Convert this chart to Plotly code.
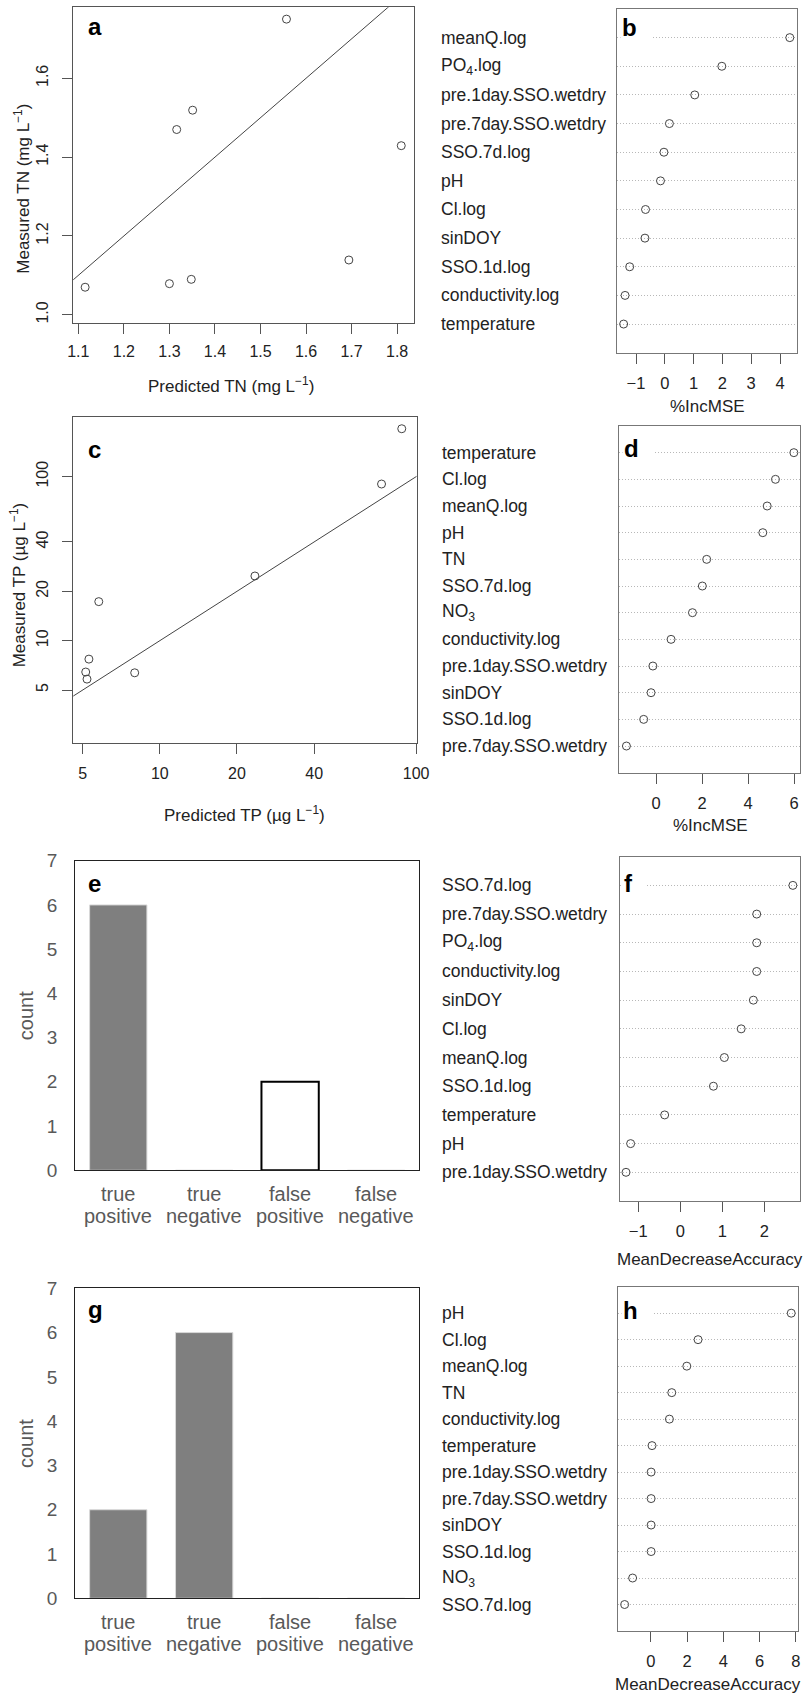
import plotly.graph_objects as go

W, H = 806, 1697
FONT = "Arial, Liberation Sans, sans-serif"

# ---------------- data ----------------
# panel a: predicted vs measured TN (mg/L)
tn_pred = [1.115, 1.300, 1.348, 1.316, 1.351, 1.557, 1.694, 1.809]
tn_meas = [1.070, 1.079, 1.090, 1.470, 1.519, 1.750, 1.139, 1.429]
tn_ticks_x = [1.1, 1.2, 1.3, 1.4, 1.5, 1.6, 1.7, 1.8]
tn_ticks_y = [1.0, 1.2, 1.4, 1.6]
one_to_one_a = [0.5, 2.5]

# panel c: predicted vs measured TP (ug/L), log axes
tp_pred = [5.14, 5.20, 5.29, 5.78, 7.98, 23.5, 73.3, 87.9]
tp_meas = [6.44, 5.83, 7.72, 17.3, 6.37, 24.8, 90.2, 196]
tp_ticks = [5, 10, 20, 40, 100]
one_to_one_c = [1, 1000]

# panel b: %IncMSE (TN model)
b_vars = ["meanQ.log", "PO<sub>4</sub>.log", "pre.1day.SSO.wetdry", "pre.7day.SSO.wetdry",
          "SSO.7d.log", "pH", "Cl.log", "sinDOY", "SSO.1d.log", "conductivity.log", "temperature"]
b_vals = [4.34, 1.98, 1.04, 0.16, -0.03, -0.15, -0.67, -0.69, -1.22, -1.38, -1.43]
b_ticks = [-1, 0, 1, 2, 3, 4]

# panel d: %IncMSE (TP model)
d_vars = ["temperature", "Cl.log", "meanQ.log", "pH", "TN", "SSO.7d.log", "NO<sub>3</sub>",
          "conductivity.log", "pre.1day.SSO.wetdry", "sinDOY", "SSO.1d.log", "pre.7day.SSO.wetdry"]
d_vals = [5.99, 5.19, 4.83, 4.64, 2.20, 2.01, 1.58, 0.65, -0.14, -0.22, -0.54, -1.29]
d_ticks = [0, 2, 4, 6]

# panel e: classification outcome counts
bar_categories = ["true positive", "true negative", "false positive", "false negative"]
e_counts = [6, 0, 2, 0]
count_ticks = [0, 1, 2, 3, 4, 5, 6, 7]

# panel f: MeanDecreaseAccuracy
f_vars = ["SSO.7d.log", "pre.7day.SSO.wetdry", "PO<sub>4</sub>.log", "conductivity.log", "sinDOY",
          "Cl.log", "meanQ.log", "SSO.1d.log", "temperature", "pH", "pre.1day.SSO.wetdry"]
f_vals = [2.68, 1.82, 1.82, 1.82, 1.74, 1.45, 1.05, 0.79, -0.37, -1.18, -1.29]
f_ticks = [-1, 0, 1, 2]

# panel g: classification outcome counts
g_counts = [2, 6, 0, 0]

# panel h: MeanDecreaseAccuracy
h_vars = ["pH", "Cl.log", "meanQ.log", "TN", "conductivity.log", "temperature",
          "pre.1day.SSO.wetdry", "pre.7day.SSO.wetdry", "sinDOY", "SSO.1d.log", "NO<sub>3</sub>", "SSO.7d.log"]
h_vals = [7.75, 2.61, 1.99, 1.16, 1.03, 0.07, 0.02, 0.02, 0.02, 0.02, -1.0, -1.44]
h_ticks = [0, 2, 4, 6, 8]


def fx(p):
    return p / W


def fy(p):
    return 1 - p / H


def tick_text(vals):
    return [("%g" % v).replace("-", "\u2212") for v in vals]


fig = go.Figure()
ann = []
layout = dict(width=W, height=H, margin=dict(l=0, r=0, t=0, b=0, autoexpand=False),
              paper_bgcolor="white", plot_bgcolor="white", showlegend=False,
              font=dict(family=FONT, color="#222"))

BOX = "#555555"
marker_open = dict(symbol="circle-open", size=8, color="#444", line=dict(width=1))

# ---------- panel a ----------
fig.add_trace(go.Scatter(x=tn_pred, y=tn_meas, mode="markers", marker=marker_open,
                         xaxis="x", yaxis="y"))
fig.add_trace(go.Scatter(x=one_to_one_a, y=one_to_one_a, mode="lines",
                         line=dict(color="#444", width=1), xaxis="x", yaxis="y"))
layout["xaxis"] = dict(domain=[fx(73.3), fx(414)], range=[1.089, 1.837], anchor="y", automargin=False,
                       tickvals=tn_ticks_x, ticktext=["%.1f" % v for v in tn_ticks_x],
                       ticks="outside", ticklen=10, tickcolor=BOX, ticklabelstandoff=4,
                       tickfont=dict(size=16, color="#222"),
                       showline=True, mirror=True, linecolor=BOX, linewidth=1,
                       showgrid=False, zeroline=False)
layout["yaxis"] = dict(domain=[fy(322.7), fy(7.3)], range=[0.98, 1.78], anchor="x", automargin=False,
                       tickvals=tn_ticks_y, ticktext=["%.1f" % v for v in tn_ticks_y],
                       tickangle=-90, ticks="outside", ticklen=10, tickcolor=BOX, ticklabelstandoff=8,
                       tickfont=dict(size=16, color="#222"),
                       showline=True, mirror=True, linecolor=BOX, linewidth=1,
                       showgrid=False, zeroline=False)

# ---------- panel c ----------
fig.add_trace(go.Scatter(x=tp_pred, y=tp_meas, mode="markers", marker=marker_open,
                         xaxis="x3", yaxis="y3"))
fig.add_trace(go.Scatter(x=one_to_one_c, y=one_to_one_c, mode="lines",
                         line=dict(color="#444", width=1), xaxis="x3", yaxis="y3"))
layout["xaxis3"] = dict(domain=[fx(73.3), fx(416.5)], type="log", range=[0.6625, 2.0015], anchor="y3",
                        automargin=False,
                        tickvals=tp_ticks, ticktext=[str(v) for v in tp_ticks],
                        ticks="outside", ticklen=10, tickcolor=BOX, ticklabelstandoff=6,
                        tickfont=dict(size=16, color="#222"),
                        showline=True, mirror=True, linecolor=BOX, linewidth=1,
                        showgrid=False, zeroline=False)
layout["yaxis3"] = dict(domain=[fy(742.7), fy(417.3)], type="log", range=[0.378, 2.362], anchor="x3",
                        automargin=False,
                        tickvals=tp_ticks, ticktext=[str(v) for v in tp_ticks],
                        tickangle=-90, ticks="outside", ticklen=10, tickcolor=BOX, ticklabelstandoff=8,
                        tickfont=dict(size=16, color="#222"),
                        showline=True, mirror=True, linecolor=BOX, linewidth=1,
                        showgrid=False, zeroline=False)


# ---------- dot charts ----------
def dotchart(idx, names, vals, ticks, xr, box_px, label_x, title, title_xy, letter, letter_xy):
    n = len(names)
    ys = list(range(n, 0, -1))
    xa = "x%d" % idx
    ya = "y%d" % idx
    fig.add_trace(go.Scatter(x=vals, y=ys, mode="markers", marker=marker_open,
                             xaxis=xa, yaxis=ya))
    l, t, r, b = box_px
    layout["xaxis%d" % idx] = dict(domain=[fx(l), fx(r)], range=xr, anchor=ya, automargin=False,
                                   tickvals=ticks, ticktext=tick_text(ticks),
                                   ticks="outside", ticklen=10, tickcolor=BOX, ticklabelstandoff=5,
                                   tickfont=dict(size=16.5, color="#222"),
                                   showline=True, mirror=True, linecolor="#777", linewidth=1.2,
                                   showgrid=False, zeroline=False)
    layout["yaxis%d" % idx] = dict(domain=[fy(b), fy(t)], range=[0, n + 1], anchor=xa, automargin=False,
                                   tickvals=ys, showticklabels=False, ticks="",
                                   showgrid=True, gridcolor="#b8b8b8", griddash="1px,2px", gridwidth=1,
                                   showline=True, mirror=True, linecolor="#777", linewidth=1.2,
                                   zeroline=False)
    for nm, y in zip(names, ys):
        ann.append(dict(text=nm, x=fx(label_x), y=y, xref="paper", yref=ya,
                        xanchor="left", yanchor="middle", showarrow=False,
                        font=dict(size=17.5, color="#222")))
    ann.append(dict(text=title, x=fx(title_xy[0]), y=fy(title_xy[1]), xref="paper", yref="paper",
                    xanchor="center", yanchor="middle", showarrow=False,
                    font=dict(size=17, color="#222")))
    ann.append(dict(text="<b>%s</b>\u00a0\u00a0" % letter, x=fx(letter_xy[0]), y=fy(letter_xy[1]),
                    xref="paper", yref="paper", xanchor="left", yanchor="middle",
                    showarrow=False, bgcolor="white", borderpad=1,
                    font=dict(size=24, color="black")))


dotchart(2, b_vars, b_vals, b_ticks, [-1.65, 4.58], (617.3, 9, 796.7, 352.7), 439,
         "%IncMSE", (707, 406), "b", (619.5, 28))
dotchart(4, d_vars, d_vals, d_ticks, [-1.6, 6.27], (619.3, 426, 800.3, 772.7), 440,
         "%IncMSE", (710, 826), "d", (621.5, 448))
dotchart(6, f_vars, f_vals, f_ticks, [-1.44, 2.85], (619.7, 856.7, 800, 1201), 440,
         "MeanDecreaseAccuracy", (710, 1259), "f", (621.5, 883))
dotchart(8, h_vars, h_vals, h_ticks, [-1.79, 8.14], (618.3, 1286.7, 798.3, 1631), 440,
         "MeanDecreaseAccuracy", (708, 1684), "h", (621, 1310))

# ---------- bar charts ----------
GRAY = "#595959"


def barchart(idx, counts, fills, lines, lwidths, box_px):
    xa = "x%d" % idx
    ya = "y%d" % idx
    fig.add_trace(go.Bar(x=bar_categories, y=counts, width=0.667,
                         marker=dict(color=fills, line=dict(color=lines, width=lwidths)),
                         xaxis=xa, yaxis=ya))
    l, t, r, b = box_px
    layout["xaxis%d" % idx] = dict(domain=[fx(l), fx(r)], range=[-0.5, 3.5], anchor=ya, automargin=False,
                                   type="category", categoryorder="array", categoryarray=bar_categories,
                                   showticklabels=False, ticks="",
                                   showline=True, mirror=True, linecolor="#222", linewidth=1.3,
                                   showgrid=False, zeroline=False)
    layout["yaxis%d" % idx] = dict(domain=[fy(b), fy(t)], range=[0, 7], anchor=xa, automargin=False,
                                   tickvals=count_ticks, ticks="outside", ticklen=13,
                                   tickcolor="rgba(0,0,0,0)",
                                   tickfont=dict(size=19, color=GRAY),
                                   showline=True, mirror=True, linecolor="#222", linewidth=1.3,
                                   showgrid=False, zeroline=False)
    for c in bar_categories:
        w1, w2 = c.split(" ")
        ann.append(dict(text=w1, x=c, y=fy(b + 24), xref=xa, yref="paper",
                        xanchor="center", yanchor="middle", showarrow=False,
                        font=dict(size=20, color=GRAY)))
        ann.append(dict(text=w2, x=c, y=fy(b + 46), xref=xa, yref="paper",
                        xanchor="center", yanchor="middle", showarrow=False,
                        font=dict(size=20, color=GRAY)))
    ann.append(dict(text="count", x=fx(26.7), y=fy((t + b) / 2), xref="paper", yref="paper",
                    textangle=-90, xanchor="center", yanchor="middle", showarrow=False,
                    font=dict(size=20, color=GRAY)))


barchart(5, e_counts, ["#7f7f7f", "#7f7f7f", "white", "#7f7f7f"],
         ["#d9d9d9", "#d9d9d9", "black", "#d9d9d9"], [1, 1, 2, 1], (75.3, 860.7, 419, 1170.3))
barchart(7, g_counts, ["#7f7f7f"] * 4, ["#d9d9d9"] * 4, [1] * 4, (75.3, 1288.3, 419, 1598.3))

# ---------- titles & letters for left panels ----------
ann += [
    dict(text="Predicted TN (mg L<sup>\u22121</sup>)", x=fx(231), y=fy(385), xref="paper", yref="paper",
         showarrow=False, xanchor="center", yanchor="middle", font=dict(size=17, color="#222")),
    dict(text="Measured TN (mg L<sup>\u22121</sup>)", x=fx(21.7), y=fy(189), xref="paper", yref="paper",
         textangle=-90, showarrow=False, xanchor="center", yanchor="middle", font=dict(size=17, color="#222")),
    dict(text="Predicted TP (\u00b5g L<sup>\u22121</sup>)", x=fx(244.5), y=fy(814), xref="paper", yref="paper",
         showarrow=False, xanchor="center", yanchor="middle", font=dict(size=17, color="#222")),
    dict(text="Measured TP (\u00b5g L<sup>\u22121</sup>)", x=fx(18.3), y=fy(585), xref="paper", yref="paper",
         textangle=-90, showarrow=False, xanchor="center", yanchor="middle", font=dict(size=17, color="#222")),
]
for letter, (lx, ly) in [("a", (86, 27)), ("c", (86, 449)), ("e", (86, 883)), ("g", (86, 1309))]:
    ann.append(dict(text="<b>%s</b>" % letter, x=fx(lx), y=fy(ly), xref="paper", yref="paper",
                    xanchor="left", yanchor="middle", showarrow=False,
                    font=dict(size=24, color="black")))

layout["annotations"] = ann
fig.update_layout(**layout)
fig.write_html("out.html")
